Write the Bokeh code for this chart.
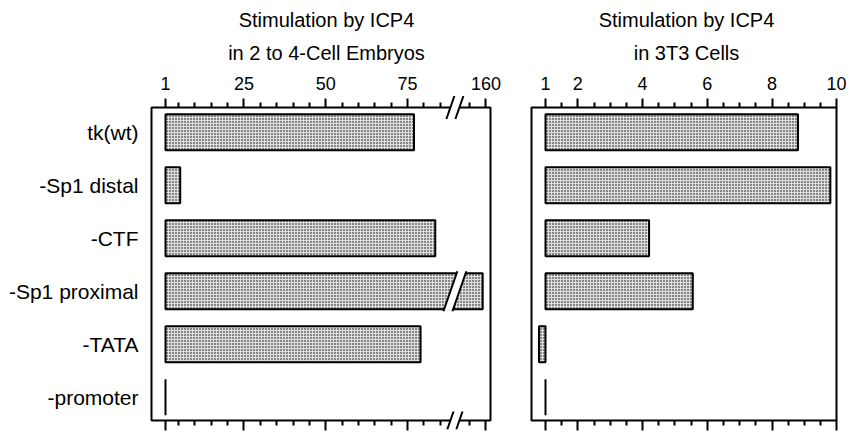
from bokeh.plotting import figure
from bokeh.layouts import row
from bokeh.models import FixedTicker, LinearAxis, Range1d, Title
from bokeh.embed import file_html
from bokeh.resources import INLINE

# ---------------- data ----------------
categories = ["tk(wt)", "-Sp1 distal", "-CTF", "-Sp1 proximal", "-TATA", "-promoter"]
embryo_values = [77, 5.5, 83.5, 159, 79, 1]          # Stimulation by ICP4 in 2 to 4-cell embryos
cells_values = [8.8, 9.8, 4.2, 5.55, 0.8, 1]         # Stimulation by ICP4 in 3T3 cells
embryo_major_ticks = [1, 25, 50, 75, 160]
embryo_minor_ticks = [5, 10, 15, 20, 30, 35, 40, 45, 55, 60, 65, 70, 80, 85, 155]
cells_major_ticks = [1, 2, 4, 6, 8, 10]
cells_minor_ticks = [1.5, 2.5, 3, 3.5, 4.5, 5, 5.5, 6.5, 7, 7.5, 8.5, 9, 9.5]

# broken axis: values at/above BREAK_VALUE are drawn shifted left by BREAK_GAP
BREAK_VALUE = 150
BREAK_GAP = 61
BREAK_X = 89.5        # display position of the break

# ---------------- layout constants (pixels) ----------------
FONT = "Liberation Sans"
H = 431
TOP, BOTTOM = 95, 2
PAD_T, PAD_B, PAD_L = 12, 9, 3     # box inside the plotting frame
FRAME_H = H - TOP - BOTTOM
BOX_H = FRAME_H - PAD_T - PAD_B
PXU_Y = BOX_H / 5.91
FIRST_CENTER = 25.5 * BOX_H / 321   # px from box top to first category centre

y_top = -(PAD_T + FIRST_CENTER) / PXU_Y
y_bot = y_top + FRAME_H / PXU_Y
box_top = -FIRST_CENTER / PXU_Y
box_bot = box_top + BOX_H / PXU_Y
BAR_H = 36 / PXU_Y


def disp(v):
    return v - BREAK_GAP if v >= BREAK_VALUE else v


ys = list(range(len(categories)))


def make_fig(width, left, frame_w, right, pxu, one_px, box_w):
    x0 = 1 - one_px / pxu
    x1 = x0 + frame_w / pxu
    p = figure(width=width, height=H, x_range=Range1d(x0, x1), y_range=Range1d(y_bot, y_top),
               x_axis_location="above", output_backend="svg", toolbar_location=None,
               min_border_left=left, min_border_right=right, min_border_top=TOP, min_border_bottom=BOTTOM)
    p.xgrid.visible = False
    p.ygrid.visible = False
    p.outline_line_color = None
    p.background_fill_color = "white"
    p.border_fill_color = "white"
    bl = x0 + PAD_L / pxu
    br = bl + box_w / pxu
    p.quad(left=bl, right=br, top=box_top, bottom=box_bot, fill_color=None,
           line_color="black", line_width=2)
    return p


def style_xaxis(ax, major, minor, overrides, top):
    ax.ticker = FixedTicker(ticks=major, minor_ticks=minor)
    ax.major_label_overrides = overrides
    ax.axis_line_color = None
    if top:
        ax.major_tick_in, ax.major_tick_out = PAD_T, -3
        ax.minor_tick_in, ax.minor_tick_out = PAD_T, -7
        ax.major_label_text_font = FONT
        ax.major_label_text_font_size = "18px"
        ax.major_label_text_color = "black"
        ax.major_label_standoff = 9
    else:
        ax.major_tick_in, ax.major_tick_out = PAD_B, 1
        ax.minor_tick_in, ax.minor_tick_out = PAD_B, -4
        ax.major_label_text_font_size = "2px"
        ax.major_label_text_color = None
        ax.major_label_standoff = 0
    ax.major_tick_line_width = 2
    ax.minor_tick_line_width = 2
    ax.major_tick_line_color = "black"
    ax.minor_tick_line_color = "black"


def add_titles(p, line1, line2):
    p.add_layout(Title(text=line2, align="center", text_font=FONT, text_font_size="20px",
                       text_font_style="normal", text_color="black", standoff=19), "above")
    p.add_layout(Title(text=line1, align="center", text_font=FONT, text_font_size="20px",
                       text_font_style="normal", text_color="black", standoff=0), "above")


bar_style = dict(fill_color="#dedede", line_color="black", line_width=2,
                 hatch_pattern="dot", hatch_color="black", hatch_scale=3, hatch_weight=1.4)

# ---------------- left panel ----------------
PXU1 = 3.27
p1 = make_fig(518, 148, 356, 14, PXU1, 17, 339)

e_major = [disp(v) for v in embryo_major_ticks]
e_minor = [disp(v) for v in embryo_minor_ticks]
e_over = {disp(v): str(v) for v in embryo_major_ticks}
style_xaxis(p1.xaxis[0], e_major, e_minor, e_over, True)
bottom1 = LinearAxis()
style_xaxis(bottom1, e_major, e_minor, e_over, False)
p1.add_layout(bottom1, "below")

yax = p1.yaxis[0]
yax.ticker = FixedTicker(ticks=ys)
yax.major_label_overrides = {i: c for i, c in zip(ys, categories)}
yax.axis_line_color = None
yax.major_tick_line_color = None
yax.minor_tick_line_color = None
yax.major_tick_in = 0
yax.major_tick_out = 0
yax.minor_tick_in = 0
yax.minor_tick_out = 0
yax.major_label_text_font = FONT
yax.major_label_text_font_size = "21px"
yax.major_label_text_color = "black"
yax.major_label_standoff = 10

p1.hbar(y=ys, left=1, right=[disp(v) for v in embryo_values], height=BAR_H, **bar_style)

# break marks: two parallel slanted strokes with white between them
SEP = 9 / PXU1                       # x distance between the strokes
SLANT = (8 / 23) * PXU_Y / PXU1      # x shift per y unit


def break_mark(yc, half_h, white_h):
    xa = [BREAK_X - SEP / 2, BREAK_X + SEP / 2]
    wx = [xa[0] + SLANT * white_h, xa[1] + SLANT * white_h, xa[1] - SLANT * white_h, xa[0] - SLANT * white_h]
    wy = [yc - white_h, yc - white_h, yc + white_h, yc + white_h]
    p1.patch(wx, wy, fill_color="white", line_color=None)
    p1.segment(x0=[x - SLANT * half_h for x in xa], y0=[yc + half_h] * 2,
               x1=[x + SLANT * half_h for x in xa], y1=[yc - half_h] * 2,
               line_color="black", line_width=2)


for y, v in zip(ys, embryo_values):
    if v >= BREAK_VALUE:
        break_mark(y, BAR_H / 2 + 2 / PXU_Y, BAR_H / 2 + 1.5 / PXU_Y)
break_mark(box_top, 11.5 / PXU_Y, 3 / PXU_Y)
break_mark(box_bot, 9 / PXU_Y, 3 / PXU_Y)

add_titles(p1, "Stimulation by ICP4", "in 2 to 4-Cell Embryos")

# ---------------- right panel ----------------
PXU2 = 32.37
p2 = make_fig(328, 10, 316, 2, PXU2, 17, 305)
p2.yaxis.visible = False
c_over = {v: str(v) for v in cells_major_ticks}
style_xaxis(p2.xaxis[0], cells_major_ticks, cells_minor_ticks, c_over, True)
bottom2 = LinearAxis()
style_xaxis(bottom2, cells_major_ticks, cells_minor_ticks, c_over, False)
p2.add_layout(bottom2, "below")

p2.hbar(y=ys, left=1, right=cells_values, height=BAR_H, **bar_style)

add_titles(p2, "Stimulation by ICP4", "in 3T3 Cells")

layout = row(p1, p2)
open("out.html", "w").write(file_html(layout, INLINE))
